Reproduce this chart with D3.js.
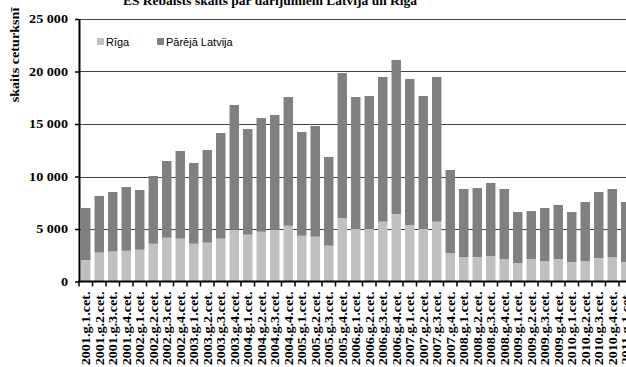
<!DOCTYPE html>
<html>
<head>
<meta charset="utf-8">
<script src="https://cdn.jsdelivr.net/npm/d3@7"></script>
<style>
  body { margin: 0; background: #fff; }
  svg { display: block; }
</style>
</head>
<body>
<svg id="chart"></svg>
<script>
// chart size
const width = 626, height = 367;

// quarters 2001 Q1 .. 2011 Q1
const years = [2001, 2002, 2003, 2004, 2005, 2006, 2007, 2008, 2009, 2010, 2011];
const quarters = [];
years.forEach(y => [1, 2, 3, 4].forEach(q => {
  if (y < 2011 || q === 1) quarters.push(y + '.g.' + q + '.cet.');
}));

// values
const riga = [
  2050, 2750, 2850, 2930, 3030, 3600, 4170, 4080,
  3600, 3700, 4080, 4930, 4460, 4740, 4930, 5310,
  4360, 4270, 3410, 6050, 5000, 5000, 5700, 6430,
  5380, 5000, 5700, 2710, 2330, 2330, 2430, 2140,
  1760, 2140, 1950, 2140, 1860, 1950, 2240, 2330,
  1860
];
const total = [
  7000, 8150, 8520, 9000, 8710, 10050, 11480, 12430,
  11290, 12520, 14140, 16810, 14520, 15570, 15860, 17570,
  14240, 14810, 11860, 19860, 17570, 17670, 19480, 21100,
  19290, 17670, 19480, 10620, 8810, 8900, 9380, 8810,
  6620, 6710, 7000, 7290, 6620, 7570, 8520, 8810,
  7570
];
const rest = total.map((t, i) => t - riga[i]);

const yTicks = [0, 5000, 10000, 15000, 20000, 25000];
const seriesNames = ['Rīga', 'Pārējā Latvija'];
const colors = ['#c0c0c0', '#808080'];

const rows = quarters.map((q, i) => ({ q: q, riga: riga[i], rest: rest[i] }));
const stack = d3.stack().keys(['riga', 'rest'])(rows);

const svg = d3.select('#chart').attr('width', width).attr('height', height)
  .style('font-family', '"Liberation Serif", "Times New Roman", serif');

const x = d3.scaleBand().domain(quarters).range([79, 632.5]).paddingInner(0.3).paddingOuter(0.15);
const y = d3.scaleLinear().domain([0, 25000]).range([281.5, 19]);

const fmt = v => d3.format(',')(v).replace(/,/g, ' ');
const stretch = 1.18; // the serif labels look wider than the font

// gridlines
svg.append('g')
  .selectAll('line')
  .data(yTicks.slice(1))
  .enter()
  .append('line')
  .attr('x1', 79).attr('x2', width)
  .attr('y1', d => Math.round(y(d)) + 0.5).attr('y2', d => Math.round(y(d)) + 0.5)
  .attr('stroke', '#444').attr('stroke-width', 1);

// bars
svg.append('g')
  .selectAll('g')
  .data(stack)
  .enter()
  .append('g')
  .attr('fill', (d, i) => colors[i])
  .selectAll('rect')
  .data(d => d)
  .enter()
  .append('rect')
  .attr('x', d => x(d.data.q))
  .attr('width', x.bandwidth())
  .attr('y', d => y(d[1]))
  .attr('height', d => y(d[0]) - y(d[1]));

// y axis
const yAxis = svg.append('g')
  .attr('transform', 'translate(79,0)')
  .call(d3.axisLeft(y).tickValues(yTicks).tickFormat(fmt).tickSizeInner(4).tickSizeOuter(0).tickPadding(6));
yAxis.select('.domain').attr('stroke', '#000').attr('stroke-width', 2);
yAxis.selectAll('.tick line').attr('stroke', '#000').attr('stroke-width', 1.5);
yAxis.selectAll('text')
  .attr('font-family', '"Liberation Serif", serif')
  .attr('font-weight', 'bold')
  .attr('font-size', 12)
  .attr('fill', '#000')
  .attr('x', -11 / stretch)
  .attr('transform', 'scale(' + stretch + ',1)');

// x axis with ticks between categories
const xAxis = svg.append('g').attr('transform', 'translate(0,' + y(0) + ')');
xAxis.append('line')
  .attr('x1', 78).attr('x2', width)
  .attr('stroke', '#000').attr('stroke-width', 2);
const step = x.step();
xAxis.selectAll('.tk')
  .data(quarters)
  .enter()
  .append('line')
  .attr('class', 'tk')
  .attr('x1', d => x(d) - step * 0.15).attr('x2', d => x(d) - step * 0.15)
  .attr('y1', 0).attr('y2', 5)
  .attr('stroke', '#000').attr('stroke-width', 1.5);
xAxis.selectAll('text')
  .data(quarters)
  .enter()
  .append('text')
  .attr('transform', d => 'translate(' + (x(d) + x.bandwidth() / 2 + 4.5) + ',10) rotate(-90) scale(' + stretch + ',1)')
  .attr('text-anchor', 'end')
  .attr('font-weight', 'bold')
  .attr('font-size', 12)
  .text(d => d);

// y label
svg.append('text')
  .attr('transform', 'translate(19,55) rotate(-90) scale(' + stretch + ',1)')
  .attr('text-anchor', 'middle')
  .attr('font-weight', 'bold')
  .attr('font-size', 12)
  .text('skaits ceturksnī');

// title, cut off at the top
svg.append('text')
  .attr('x', 270).attr('y', 5)
  .attr('text-anchor', 'middle')
  .attr('font-weight', 'bold')
  .attr('font-size', 13.5)
  .text('ES Rebalsts skaits par darījumiem Latvijā un Rīgā');

// legend
const legend = svg.append('g').style('font-family', '"Liberation Sans", Arial, sans-serif');
const legendX = [97, 157];
seriesNames.forEach((name, i) => {
  legend.append('rect')
    .attr('x', legendX[i]).attr('y', 38)
    .attr('width', 7).attr('height', 7)
    .attr('fill', colors[i]);
  legend.append('text')
    .attr('x', legendX[i] + 9).attr('y', 45.5)
    .attr('font-size', 11)
    .text(name);
});
</script>
</body>
</html>
